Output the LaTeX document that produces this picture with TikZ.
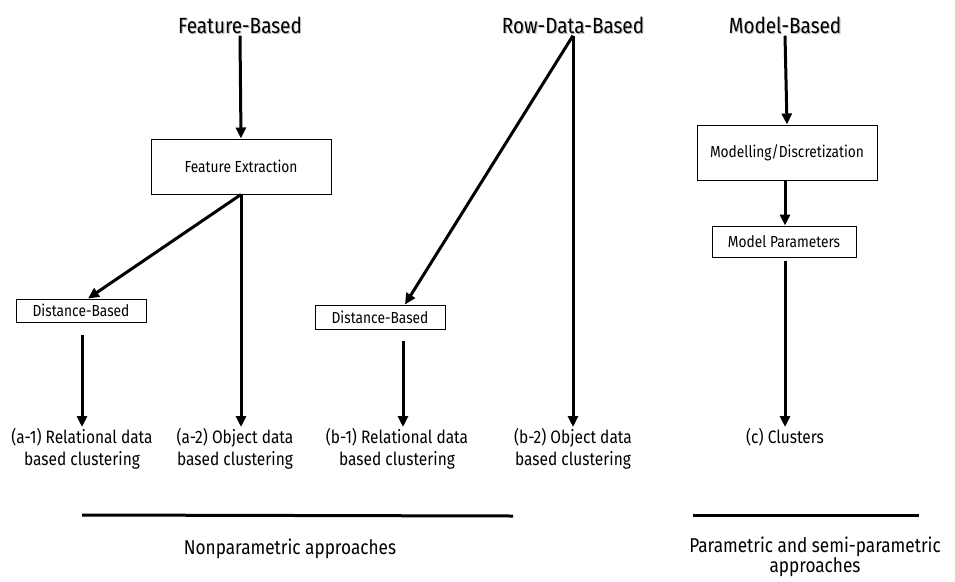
\documentclass[tikz,border=0pt]{standalone}
\usepackage{fontspec}
\setmainfont[FakeStretch=0.86]{Fira Sans}
\usetikzlibrary{arrows.meta}
\tikzset{
  heading/.style={font=\fontsize{22}{24}\selectfont, inner sep=2pt},
  headshadow/.style={heading, text=black!40, opacity=0.6},
  procbox/.style={draw, line width=1pt, align=center, font=\fontsize{16}{18}\selectfont},
  outcome/.style={align=center, font=\fontsize{18}{22}\selectfont, inner sep=1pt},
  flow/.style={line width=3pt, -{Triangle[length=11pt,width=10pt]}},
  rule/.style={line width=3pt},
  caption/.style={align=center, font=\fontsize{20}{20}\selectfont}
}
\begin{document}
\begin{tikzpicture}[x=1pt,y=-1pt]
\useasboundingbox (0,0) rectangle (955,581);

% headings with a soft drop shadow
\node[headshadow] at (241.2,26.2) {Feature-Based};
\node[heading] (fb) at (240,25) {Feature-Based};
\node[headshadow] at (574.2,26.2) {Row-Data-Based};
\node[heading] (rb) at (573,25) {Row-Data-Based};
\node[headshadow] at (786.2,26.2) {Model-Based};
\node[heading] (mb) at (785,25) {Model-Based};

% processing boxes
\node[procbox, minimum width=180pt, minimum height=55pt] (fe) at (241,166.5) {Feature Extraction};
\node[procbox, minimum width=130pt, minimum height=23pt] (db1) at (81,310.5) {Distance-Based};
\node[procbox, minimum width=130pt, minimum height=24pt] (db2) at (380,317) {Distance-Based};
\node[procbox, minimum width=180pt, minimum height=55pt] (md) at (787,152.5) {Modelling/Discretization};
\node[procbox, minimum width=144pt, minimum height=31pt] (mp) at (784,241.5) {Model Parameters};

% resulting clusterings
\node[outcome, anchor=north] (a1) at (82,427) {(a-1) Relational data\\based clustering};
\node[outcome, anchor=north] (a2) at (235,427) {(a-2) Object data\\based clustering};
\node[outcome, anchor=north] (b1) at (397,427) {(b-1) Relational data\\based clustering};
\node[outcome, anchor=north] (b2) at (573,427) {(b-2) Object data\\based clustering};
\node[outcome, anchor=north] (c) at (785,427) {(c) Clusters};

% feature-based branch
\draw[flow] (fb.south) -- (fe.north);
\draw[flow] (fe.south) -- ([xshift=7pt]db1.north);
\draw[flow] (fe.south) -- (fe.south |- a2.north);
\draw[flow, shorten <=12pt] ([xshift=1pt]db1.south) -- ([xshift=1pt]db1.south |- a1.north);

% row-data-based branch
\draw[flow] (rb.south) -- ([xshift=25pt]db2.north);
\draw[flow] (rb.south) -- (rb.south |- b2.north);
\draw[flow, shorten <=11pt] ([xshift=23pt]db2.south) -- ([xshift=23pt]db2.south |- b1.north);

% model-based branch
\draw[flow] (mb.south) -- (md.north);
\draw[flow] ([xshift=-2pt]md.south) -- ([xshift=-2pt]md.south |- mp.north);
\draw[flow, shorten <=3pt] ([xshift=1pt]mp.south) -- ([xshift=1pt]mp.south |- c.north);

% family separators and captions
\coordinate (n1) at (82,515);
\coordinate (n2) at (513,516);
\draw[rule] (n1) -- (n2);
\node[caption] (np) at (290,549) {Nonparametric approaches};
\coordinate (p1) at (693,515);
\coordinate (p2) at (919,515);
\draw[rule] (p1) -- (p2);
\node[caption] (pp) at (815,557) {Parametric and semi-parametric\\approaches};
\end{tikzpicture}
\end{document}
